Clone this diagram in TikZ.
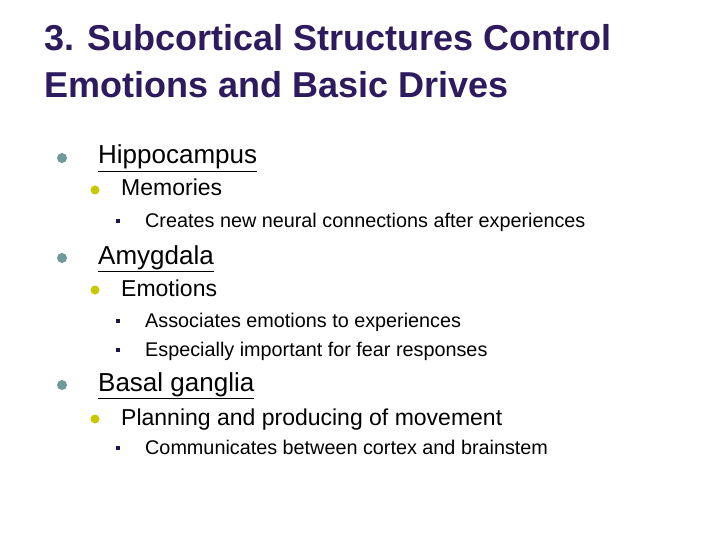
\documentclass[tikz,border=0pt]{standalone}
\usepackage{fontspec}
\setmainfont{Liberation Sans}
\definecolor{titlec}{HTML}{2E1A5E}
\definecolor{bA}{HTML}{6E9A9A}
\definecolor{bB}{HTML}{C8C800}
\definecolor{bC}{HTML}{1E1450}
\tikzset{
 ttl/.style={anchor=base west,inner sep=0pt,text=titlec,font=\fontsize{36}{40}\selectfont\bfseries},
 lA/.style={anchor=base west,inner sep=0pt,font=\fontsize{26}{28}\selectfont},
 lB/.style={anchor=base west,inner sep=0pt,font=\fontsize{23}{24}\selectfont},
 lC/.style={anchor=base west,inner sep=0pt,font=\fontsize{19.8}{20}\selectfont},
 dA/.style={fill=bA,circle,inner sep=0pt,minimum size=10pt},
 dB/.style={fill=bB,circle,inner sep=0pt,minimum size=9pt},
 dC/.style={fill=bC,inner sep=0pt,minimum size=4pt},
}
\begin{document}
\begin{tikzpicture}[x=1pt,y=-1pt]
\useasboundingbox[fill=white] (0,0) rectangle (720,540);
\node[ttl] (t1) at (44,51) {3. Subcortical Structures Control};
\node[ttl] (t2) at (44,98) {Emotions and Basic Drives};
\node[dA] (b1) at (62,158) {}; \node[lA] (h) at (98,164) {\underline{Hippocampus}};
\node[dB] (b2) at (95,190) {}; \node[lB] (m) at (121,196) {Memories};
\node[dC] (b3) at (118,221) {}; \node[lC] (c) at (145,227) {Creates new neural connections after experiences};
\node[dA] (b4) at (62,258) {}; \node[lA] (a) at (98,264) {\underline{Amygdala}};
\node[dB] (b5) at (95,290) {}; \node[lB] (e) at (121,296) {Emotions};
\node[dC] (b6) at (118,321) {}; \node[lC] (e1) at (145,327) {Associates emotions to experiences};
\node[dC] (b7) at (118,350) {}; \node[lC] (e2) at (145,356) {Especially important for fear responses};
\node[dA] (b8) at (62,385) {}; \node[lA] (bg) at (98,391) {\underline{Basal ganglia}};
\node[dB] (b9) at (95,419) {}; \node[lB] (p) at (121,425) {Planning and producing of movement};
\node[dC] (b10) at (118,448) {}; \node[lC] (p1) at (145,454) {Communicates between cortex and brainstem};
\end{tikzpicture}
\end{document}
